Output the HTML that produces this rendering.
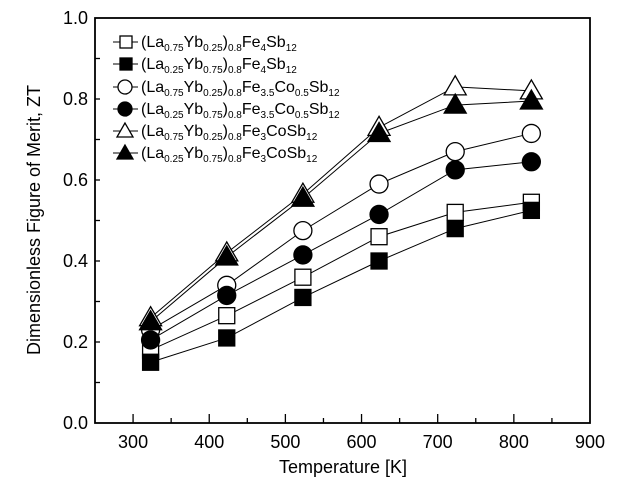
<!DOCTYPE html>
<html><head><meta charset="utf-8"><style>
body{margin:0;background:#fff}
svg text{font-family:"Liberation Sans",Arial,sans-serif;fill:#000}
</style></head><body>
<svg id="chart" width="621" height="497" xmlns="http://www.w3.org/2000/svg">
<g id="axes"></g><g id="series"></g><g id="legend"></g>
</svg>
<script>
const temps=[323,423,523,623,723,823];
const sqOpen=[0.18,0.265,0.36,0.46,0.52,0.545];
const sqFill=[0.15,0.21,0.31,0.40,0.48,0.525];
const ciOpen=[0.23,0.34,0.475,0.59,0.67,0.715];
const ciFill=[0.205,0.315,0.415,0.515,0.625,0.645];
const trOpen=[0.26,0.42,0.565,0.73,0.83,0.82];
const trFill=[0.25,0.41,0.555,0.715,0.785,0.795];
const xTicks=[300,400,500,600,700,800,900];
const yTicks=[0.0,0.2,0.4,0.6,0.8,1.0];
const L=95,R=590,T=18,B=423,xMin=250,xMax=900,yMin=0,yMax=1;
const X=v=>L+(v-xMin)/(xMax-xMin)*(R-L);
const Y=v=>B-(v-yMin)/(yMax-yMin)*(B-T);
const NS="http://www.w3.org/2000/svg";
function mk(tag,attrs,parent){const e=document.createElementNS(NS,tag);for(const k in attrs)e.setAttribute(k,attrs[k]);parent.appendChild(e);return e;}
const ax=document.getElementById('axes'),sg=document.getElementById('series'),lg=document.getElementById('legend');
let f=mk('rect',{x:L,y:T,width:R-L,height:B-T,fill:'none',stroke:'#000','stroke-width':1.8},ax);

for(let v=300;v<=850;v+=50){const maj=v%100===0;const t=mk('line',{x1:X(v),x2:X(v),y1:B,y2:B-(maj?9:5),stroke:'#000','stroke-width':1.3},ax);
}
for(let i=1;i<10;i++){const v=i/10;const t=mk('line',{x1:L,x2:L+5,y1:Y(v),y2:Y(v),stroke:'#000','stroke-width':1.3},ax);
}
xTicks.forEach(v=>{const t=mk('text',{x:X(v),y:B+25,'text-anchor':'middle','font-size':18},ax);t.textContent=v;
});
yTicks.forEach(v=>{const t=mk('text',{x:L-7,y:Y(v)+6,'text-anchor':'end','font-size':18},ax);t.textContent=v.toFixed(1);
});
let xt=mk('text',{x:343,y:473,'text-anchor':'middle','font-size':18},ax);xt.textContent='Temperature [K]';

let yt=mk('text',{x:0,y:0,'text-anchor':'middle','font-size':18,transform:'translate(40,220) rotate(-90)'},ax);yt.textContent='Dimensionless Figure of Merit, ZT';

function marker(shape,filled,cx,cy,parent){const fill=filled?'#000':'#fff';let e;
 if(shape==='sq')e=mk('rect',{x:cx-8,y:cy-8,width:16,height:16,fill,stroke:'#000','stroke-width':1.3},parent);
 else if(shape==='ci')e=mk('circle',{cx,cy,r:9,fill,stroke:'#000','stroke-width':1.3},parent);
 else e=mk('polygon',{points:`${cx},${cy-11} ${cx-11},${cy+8} ${cx+11},${cy+8}`,fill,stroke:'#000','stroke-width':1.3},parent);
 return e;}
const series=[
 {n:'la075-fe4',d:sqOpen,s:'sq',f:false,lab:['0.75','0.25','4','']},
 {n:'la025-fe4',d:sqFill,s:'sq',f:true,lab:['0.25','0.75','4','']},
 {n:'la075-fe35co05',d:ciOpen,s:'ci',f:false,lab:['0.75','0.25','3.5','co05']},
 {n:'la025-fe35co05',d:ciFill,s:'ci',f:true,lab:['0.25','0.75','3.5','co05']},
 {n:'la075-fe3co',d:trOpen,s:'tr',f:false,lab:['0.75','0.25','3','co']},
 {n:'la025-fe3co',d:trFill,s:'tr',f:true,lab:['0.25','0.75','3','co']}];
series.forEach(s=>{const p=mk('polyline',{points:temps.map((t,i)=>X(t)+','+Y(s.d[i])).join(' '),fill:'none',stroke:'#000','stroke-width':1},sg);
 });
series.forEach(s=>{temps.forEach((t,i)=>{const m=marker(s.s,s.f,X(t),Y(s.d[i]),sg);
 });});
const rows=[42,64,87,109,131,153];
series.forEach((s,i)=>{const g=mk('g',{},lg);
 const y=rows[i];mk('line',{x1:113,x2:138,y1:y,y2:y,stroke:'#000','stroke-width':1},g);
 const m=marker(s.s,s.f,125,y,g);if(s.s==='sq'){m.setAttribute('x',120);m.setAttribute('y',y-6);m.setAttribute('width',12);m.setAttribute('height',12);}
 else if(s.s==='ci')m.setAttribute('r',7);else m.setAttribute('points',`125,${y-8} 117,${y+6} 133,${y+6}`);
 const [a,b,fe,co]=s.lab;
 let tail=co==='co05'?`Co<tspan dy="4" font-size="10">0.5</tspan><tspan dy="-4">Sb</tspan>`:co==='co'?`CoSb`:`Sb`;
 const t=mk('text',{x:141,y:y+5,'font-size':16},g);
 t.innerHTML=`(La<tspan dy="4" font-size="10">${a}</tspan><tspan dy="-4">Yb</tspan><tspan dy="4" font-size="10">${b}</tspan><tspan dy="-4">)</tspan><tspan dy="4" font-size="10">0.8</tspan><tspan dy="-4">Fe</tspan><tspan dy="4" font-size="10">${fe}</tspan><tspan dy="-4">${tail}</tspan><tspan dy="4" font-size="10">12</tspan>`;
});
</script>
</body></html>
